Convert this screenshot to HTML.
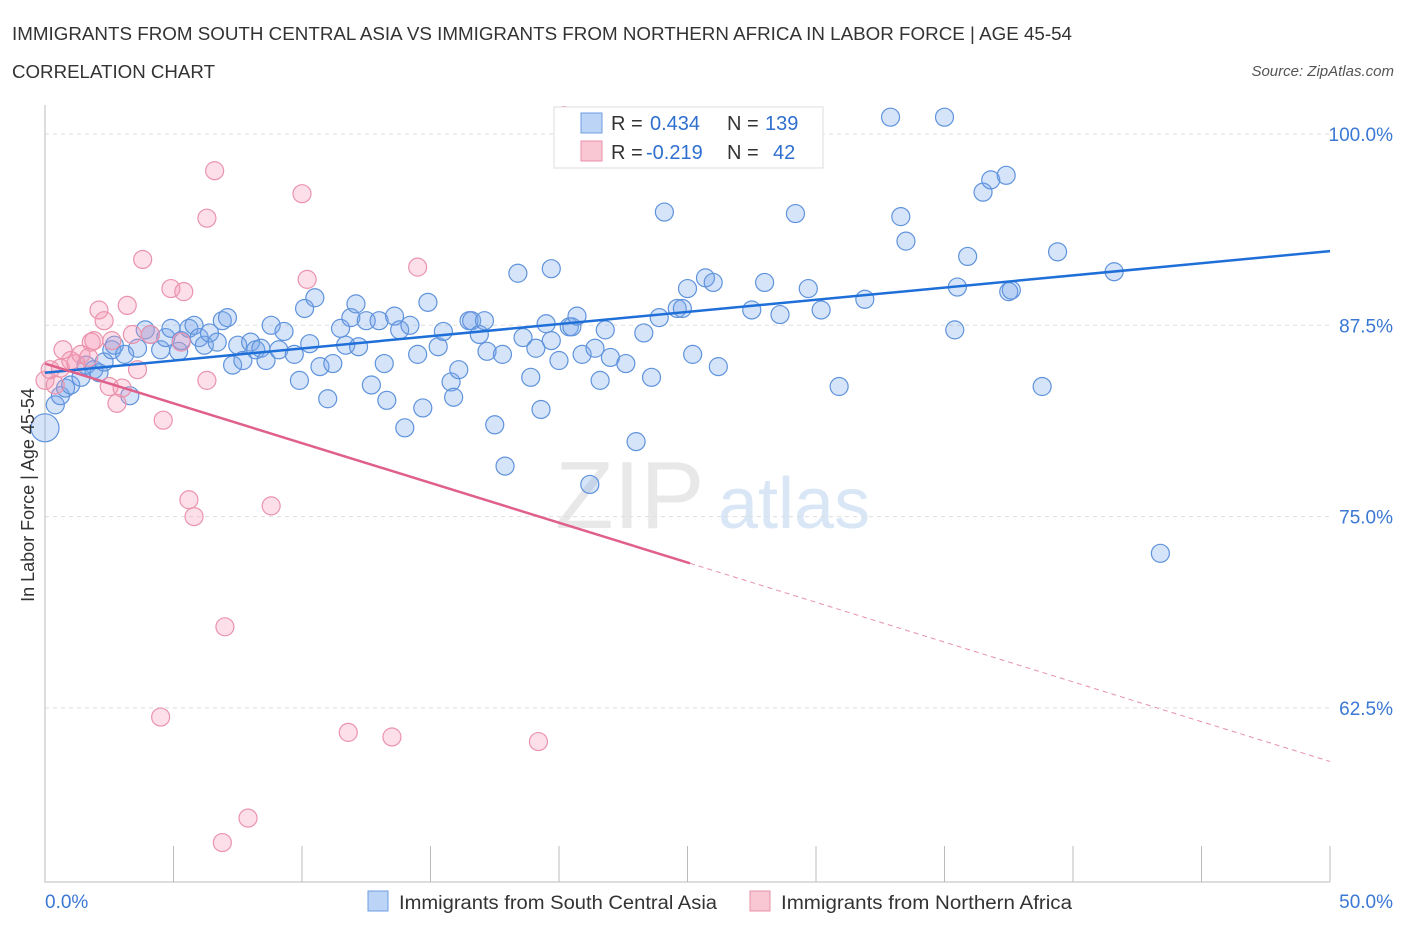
<!DOCTYPE html>
<html><head><meta charset="utf-8"><style>
body{margin:0;background:#fff;font-family:"Liberation Sans",sans-serif}
svg text{font-family:"Liberation Sans",sans-serif}
</style></head><body>
<svg id="c" width="1406" height="930" xmlns="http://www.w3.org/2000/svg">
<text x="12" y="40" font-size="18" fill="#333" textLength="1060" lengthAdjust="spacingAndGlyphs">IMMIGRANTS FROM SOUTH CENTRAL ASIA VS IMMIGRANTS FROM NORTHERN AFRICA IN LABOR FORCE | AGE 45-54</text>
<text x="12" y="78" font-size="18" fill="#333" textLength="203" lengthAdjust="spacingAndGlyphs">CORRELATION CHART</text>
<text x="1394" y="76" font-size="15" fill="#555" text-anchor="end" font-style="italic">Source: ZipAtlas.com</text>
<text x="555" y="528" font-size="96" fill="#e8e8e8" font-family="Liberation Serif">ZIP</text>
<text x="718" y="528" font-size="72" fill="#d8e6f6">atlas</text>
<g id="grid"></g><g id="axes"></g><g id="pts"></g><g id="lines"></g>
<text transform="translate(34,495) rotate(-90)" font-size="18" fill="#333" text-anchor="middle">In Labor Force | Age 45-54</text>
<g>
<rect x="554" y="107" width="269" height="61" fill="#fff" stroke="#ddd"/>
<rect x="581" y="113" width="21" height="20" fill="#bcd4f6" stroke="#6d9de0"/>
<rect x="581" y="141" width="21" height="20" fill="#f9c6d4" stroke="#e890aa"/>
<text x="611" y="130" font-size="20" fill="#333">R =</text>
<text x="650" y="130" font-size="20" fill="#2f6fd0">0.434</text>
<text x="727" y="130" font-size="20" fill="#333">N =</text>
<text x="765" y="130" font-size="20" fill="#2f6fd0">139</text>
<text x="611" y="159" font-size="20" fill="#333">R =</text>
<text x="646" y="159" font-size="20" fill="#2f6fd0">-0.219</text>
<text x="727" y="159" font-size="20" fill="#333">N =</text>
<text x="773" y="159" font-size="20" fill="#2f6fd0">42</text>
</g>
<g>
<rect x="368" y="891" width="20" height="20" fill="#bcd4f6" stroke="#6d9de0"/>
<text x="399" y="909" font-size="19" fill="#333" textLength="318" lengthAdjust="spacingAndGlyphs">Immigrants from South Central Asia</text>
<rect x="750" y="891" width="20" height="20" fill="#f9c6d4" stroke="#e890aa"/>
<text x="781" y="909" font-size="19" fill="#333" textLength="291" lengthAdjust="spacingAndGlyphs">Immigrants from Northern Africa</text>
</g>
</svg>
<script>
const blueX=[0.0,0.4,0.6,0.8,1.0,1.4,1.6,1.9,2.1,2.3,2.6,2.7,3.1,3.3,3.6,3.9,4.1,4.5,4.7,4.9,5.2,5.3,5.6,5.8,6.0,6.2,6.4,6.7,6.9,7.1,7.3,7.5,7.7,8.0,8.2,8.4,8.6,8.8,9.1,9.3,9.7,9.9,10.1,10.3,10.5,10.7,11.0,11.2,11.5,11.7,11.9,12.1,12.2,12.5,12.7,13.0,13.2,13.3,13.6,13.8,14.2,14.5,14.7,14.0,14.9,15.3,15.5,15.8,15.9,16.1,16.5,16.6,16.9,17.1,17.2,17.5,17.8,17.9,18.4,18.6,18.9,19.1,19.3,19.5,19.7,19.7,20.0,20.4,20.5,20.7,20.9,21.2,21.4,21.6,21.8,22.0,22.6,23.0,23.3,23.6,23.9,24.1,24.6,24.8,25.0,25.2,25.7,26.0,26.2,27.5,28.0,28.6,29.2,29.7,30.2,30.9,31.9,32.9,33.3,33.5,35.0,35.4,35.5,35.9,36.5,36.8,37.4,37.5,37.6,38.8,39.4,41.6,43.4,29.5];
const blueY=[80.8,82.3,82.9,83.4,83.6,84.1,84.9,84.6,84.4,85.1,85.9,86.2,85.6,82.9,86.0,87.2,86.9,85.9,86.7,87.3,85.8,86.5,87.3,87.5,86.7,86.2,87.0,86.4,87.8,88.0,84.9,86.2,85.2,86.4,85.9,86.0,85.2,87.5,85.9,87.1,85.6,83.9,88.6,86.3,89.3,84.8,82.7,85.0,87.3,86.2,88.0,88.9,86.1,87.8,83.6,87.8,85.0,82.6,88.1,87.2,87.5,85.6,82.1,80.8,89.0,86.1,87.1,83.8,82.8,84.6,87.8,87.8,86.9,87.8,85.8,81.0,85.6,78.3,90.9,86.7,84.1,86.0,82.0,87.6,91.2,86.5,85.2,87.4,87.4,88.1,85.6,77.1,86.0,83.9,87.2,85.4,85.0,79.9,87.0,84.1,88.0,94.9,88.6,88.6,89.9,85.6,90.6,90.3,84.8,88.5,90.3,88.2,94.8,89.9,88.5,83.5,89.2,101.1,94.6,93.0,101.1,87.2,90.0,92.0,96.2,97.0,97.3,89.7,89.8,83.5,92.3,91.0,72.6,101.1];
const pinkX=[0.0,0.2,0.4,0.6,0.7,1.0,1.2,1.4,1.7,1.8,1.9,2.1,2.3,2.5,2.6,2.8,3.0,3.2,3.4,3.6,3.8,4.1,4.5,4.6,4.9,5.3,5.4,5.6,5.8,6.3,6.3,6.6,6.9,7.0,7.9,8.8,10.0,10.2,11.8,13.5,14.5,19.2,20.2];
const pinkY=[83.9,84.6,83.6,84.7,85.9,85.2,85.0,85.6,85.4,86.4,86.5,88.5,87.8,83.5,86.5,82.4,83.4,88.8,86.9,84.6,91.8,86.9,61.9,81.3,89.9,86.4,89.7,76.1,75.0,94.5,83.9,97.6,53.7,67.8,55.3,75.7,96.1,90.5,60.9,60.6,91.3,60.3,101.2];
const blueTrend=[84.4,92.35];
const pinkTrend=[85.0,59.0];
const pinkSolidEnd=25.1;
const yTicks=[100,87.5,75,62.5];
const yTickLabels=["100.0%","87.5%","75.0%","62.5%"];
const xTicks=[0,5,10,15,20,25,30,35,40,45,50];
const NS="http://www.w3.org/2000/svg";
const X=v=>45+v*25.7, Y=v=>134+(100-v)*15.304;
function mk(t,a,p){const e=document.createElementNS(NS,t);for(const k in a)e.setAttribute(k,a[k]);document.getElementById(p).appendChild(e);return e;}
yTicks.forEach((t,i)=>{
 const g=mk('line',{x1:45,x2:1330,y1:Y(t),y2:Y(t),stroke:'#ddd','stroke-dasharray':'4,4'},'grid');
 
 
 const l=mk('text',{x:1393,y:Y(t)+7,'font-size':19,fill:'#3a78d4','text-anchor':'end'},'axes');
 l.textContent=yTickLabels[i];
 
 
});
const ax=mk('path',{d:'M45,105V882H1330',stroke:'#bbb',fill:'none'},'axes');


xTicks.forEach(t=>{
 const k=mk('line',{x1:X(t),x2:X(t),y1:846,y2:882,stroke:'#bbb'},'axes');
 
 
});
const x0=mk('text',{x:45,y:908,'font-size':19,fill:'#3a78d4'},'axes');x0.textContent='0.0%';


const x1=mk('text',{x:1393,y:908,'font-size':19,fill:'#3a78d4','text-anchor':'end'},'axes');x1.textContent='50.0%';


blueX.forEach((v,i)=>{
 const c=mk('circle',{cx:X(v),cy:Y(blueY[i]),r:i==0?14:9,fill:'rgba(120,165,235,0.3)',stroke:'#5f93dc','stroke-width':1.2},'pts');
 
 
});
pinkX.forEach((v,i)=>{
 const c=mk('circle',{cx:X(v),cy:Y(pinkY[i]),r:9,fill:'rgba(245,150,180,0.3)',stroke:'#eb93ad','stroke-width':1.2},'pts');
 
 
});
const bl=mk('line',{x1:X(0),y1:Y(blueTrend[0]),x2:X(50),y2:Y(blueTrend[1]),stroke:'#1f6fd8','stroke-width':2.5},'lines');


const pf=v=>pinkTrend[0]+(pinkTrend[1]-pinkTrend[0])*v/50;
const ps=mk('line',{x1:X(0),y1:Y(pf(0)),x2:X(pinkSolidEnd),y2:Y(pf(pinkSolidEnd)),stroke:'#e0608c','stroke-width':2.5},'lines');


const pd=mk('line',{x1:X(pinkSolidEnd),y1:Y(pf(pinkSolidEnd)),x2:X(50),y2:Y(pf(50)),stroke:'#e890aa','stroke-width':1,'stroke-dasharray':'5,4'},'lines');


</script>
</body></html>
